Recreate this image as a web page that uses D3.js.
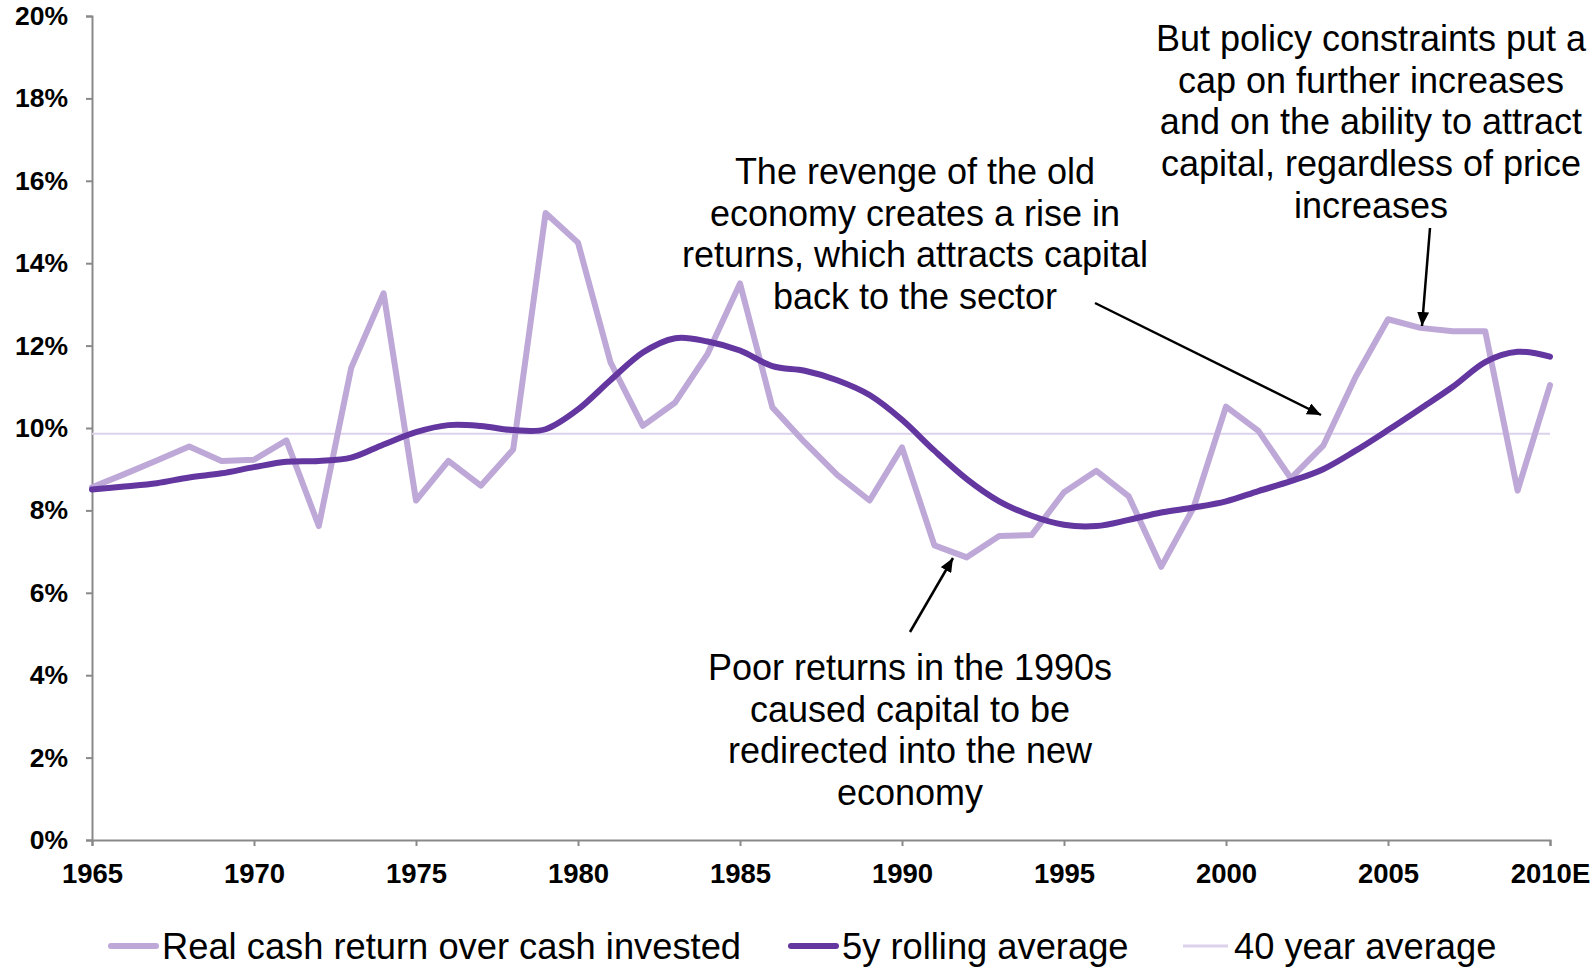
<!DOCTYPE html>
<html>
<head>
<meta charset="utf-8">
<script src="https://cdn.jsdelivr.net/npm/d3@7"></script>
<style>
  body { margin: 0; background: #fff; }
  svg { display: block; font-family: "Liberation Sans", Arial, sans-serif; }
</style>
</head>
<body>
<svg></svg>
<script>
// data
const years = d3.range(1965, 2011);
const realReturn = [8.56, 8.88, 9.21, 9.55, 9.2, 9.23, 9.7, 7.62, 11.46, 13.27,
  8.24, 9.2, 8.6, 9.48, 15.22, 14.5, 11.6, 10.05, 10.62, 11.8,
  13.51, 10.5, 9.65, 8.86, 8.24, 9.53, 7.15, 6.86, 7.38, 7.4,
  8.44, 8.96, 8.34, 6.63, 8.07, 10.52, 9.93, 8.78, 9.57, 11.24,
  12.64, 12.43, 12.35, 12.35, 8.48, 11.04];
const rollingAvg = [8.51, 8.58, 8.66, 8.8, 8.9, 9.05, 9.18, 9.2, 9.28, 9.6,
  9.9, 10.07, 10.05, 9.95, 9.97, 10.45, 11.16, 11.83, 12.18, 12.1,
  11.88, 11.5, 11.39, 11.16, 10.8, 10.2, 9.45, 8.76, 8.22, 7.87,
  7.65, 7.62, 7.77, 7.95, 8.07, 8.22, 8.47, 8.71, 9.0, 9.45,
  9.95, 10.47, 11.0, 11.6, 11.85, 11.73];
const fortyYearAvg = 9.86;
const yTicks = [0, 2, 4, 6, 8, 10, 12, 14, 16, 18, 20];
const xTicks = [1965, 1970, 1975, 1980, 1985, 1990, 1995, 2000, 2005, 2010];
const xTickLabels = ['1965', '1970', '1975', '1980', '1985', '1990', '1995', '2000', '2005', '2010E'];
const seriesNames = ['Real cash return over cash invested', '5y rolling average', '40 year average'];

const w = 1595;
const h = 968;
const light = '#bea8d7';
const dark = '#6336a0';
const pale = '#dcd2ec';

const svg = d3.select('svg')
  .attr('width', w)
  .attr('height', h)

const x = d3.scaleLinear()
  .domain([1965, 2010])
  .range([92, 1550])

const y = d3.scaleLinear()
  .domain([0, 20])
  .range([840, 16])

// Axes
const yAxis = d3.axisLeft(y)
  .tickValues(yTicks)
  .tickFormat(d => d + '%')
  .tickSize(6)
  .tickPadding(18)

const gy = svg.append('g')
  .attr('transform', 'translate(92,0)')
  .call(yAxis)
gy.selectAll('text')
  .attr('font-size', 26.5)
  .attr('font-weight', 'bold')
  .attr('fill', '#000')
  .attr('font-family', '"Liberation Sans", Arial, sans-serif')

const xAxis = d3.axisBottom(x)
  .tickValues(xTicks)
  .tickFormat((d, i) => xTickLabels[i])
  .tickSize(6)

const gx = svg.append('g')
  .attr('transform', 'translate(0,840)')
  .call(xAxis)
gx.selectAll('text')
  .attr('y', 43)
  .attr('dy', 0)
  .attr('font-size', 27.5)
  .attr('font-weight', 'bold')
  .attr('fill', '#000')
  .attr('font-family', '"Liberation Sans", Arial, sans-serif')

svg.selectAll('.domain, .tick line')
  .attr('stroke', '#898989')
  .attr('stroke-width', 2)

// 40 year average
svg.append('line')
  .attr('x1', x(1965))
  .attr('x2', x(2010))
  .attr('y1', y(fortyYearAvg))
  .attr('y2', y(fortyYearAvg))
  .attr('stroke', pale)
  .attr('stroke-width', 2)

// Lines
const realLine = d3.line()
  .x((d, i) => x(years[i]))
  .y(d => y(d))

svg.append('path')
  .datum(realReturn)
  .attr('d', realLine)
  .attr('fill', 'none')
  .attr('stroke', light)
  .attr('stroke-width', 6)
  .attr('stroke-linejoin', 'round')
  .attr('stroke-linecap', 'round')

const smoothLine = d3.line()
  .x((d, i) => x(years[i]))
  .y(d => y(d))
  .curve(d3.curveCatmullRom.alpha(0))

svg.append('path')
  .datum(rollingAvg)
  .attr('d', smoothLine)
  .attr('fill', 'none')
  .attr('stroke', dark)
  .attr('stroke-width', 6)
  .attr('stroke-linecap', 'round')

// Annotations
svg.append('defs')
  .append('marker')
  .attr('id', 'head')
  .attr('markerUnits', 'userSpaceOnUse')
  .attr('viewBox', '0 0 14 12')
  .attr('refX', 14)
  .attr('refY', 6)
  .attr('markerWidth', 14)
  .attr('markerHeight', 12)
  .attr('orient', 'auto')
  .append('path')
  .attr('d', 'M0,0L14,6L0,12Z')
  .attr('fill', '#000')

const arrows = [
  [910, 632, 953, 558],
  [1095, 303, 1321, 415],
  [1430, 228, 1422, 326]
]
svg.selectAll('.arrow')
  .data(arrows)
  .enter()
  .append('line')
  .attr('class', 'arrow')
  .attr('x1', d => d[0])
  .attr('y1', d => d[1])
  .attr('x2', d => d[2])
  .attr('y2', d => d[3])
  .attr('stroke', '#000')
  .attr('stroke-width', 2.5)
  .attr('marker-end', 'url(#head)')

const notes = [
  {cx: 915, top: 184, lines: ['The revenge of the old', 'economy creates a rise in', 'returns, which attracts capital', 'back to the sector']},
  {cx: 1371, top: 51, lines: ['But policy constraints put a', 'cap on further increases', 'and on the ability to attract', 'capital, regardless of price', 'increases']},
  {cx: 910, top: 680, lines: ['Poor returns in the 1990s', 'caused capital to be', 'redirected into the new', 'economy']}
]
notes.forEach(n => {
  svg.append('text')
    .attr('text-anchor', 'middle')
    .attr('font-size', 36)
    .attr('fill', '#000')
    .selectAll('tspan')
    .data(n.lines)
    .enter()
    .append('tspan')
    .attr('x', n.cx)
    .attr('y', (d, i) => n.top + i * 41.7)
    .text(d => d)
})

// Legend
const legendItems = [
  {x: 111, color: light, width: 6, cap: 'round'},
  {x: 791, color: dark, width: 6, cap: 'round'},
  {x: 1183, color: pale, width: 3, cap: 'butt'}
]
const legend = svg.append('g')
legendItems.forEach((d, i) => {
  legend.append('line')
    .attr('x1', d.x)
    .attr('x2', d.x + 45)
    .attr('y1', 946)
    .attr('y2', 946)
    .attr('stroke', d.color)
    .attr('stroke-width', d.width)
    .attr('stroke-linecap', d.cap)
  legend.append('text')
    .attr('x', d.x + 51)
    .attr('y', 959)
    .attr('font-size', 36.3)
    .attr('fill', '#000')
    .text(seriesNames[i])
})
</script>
</body>
</html>
